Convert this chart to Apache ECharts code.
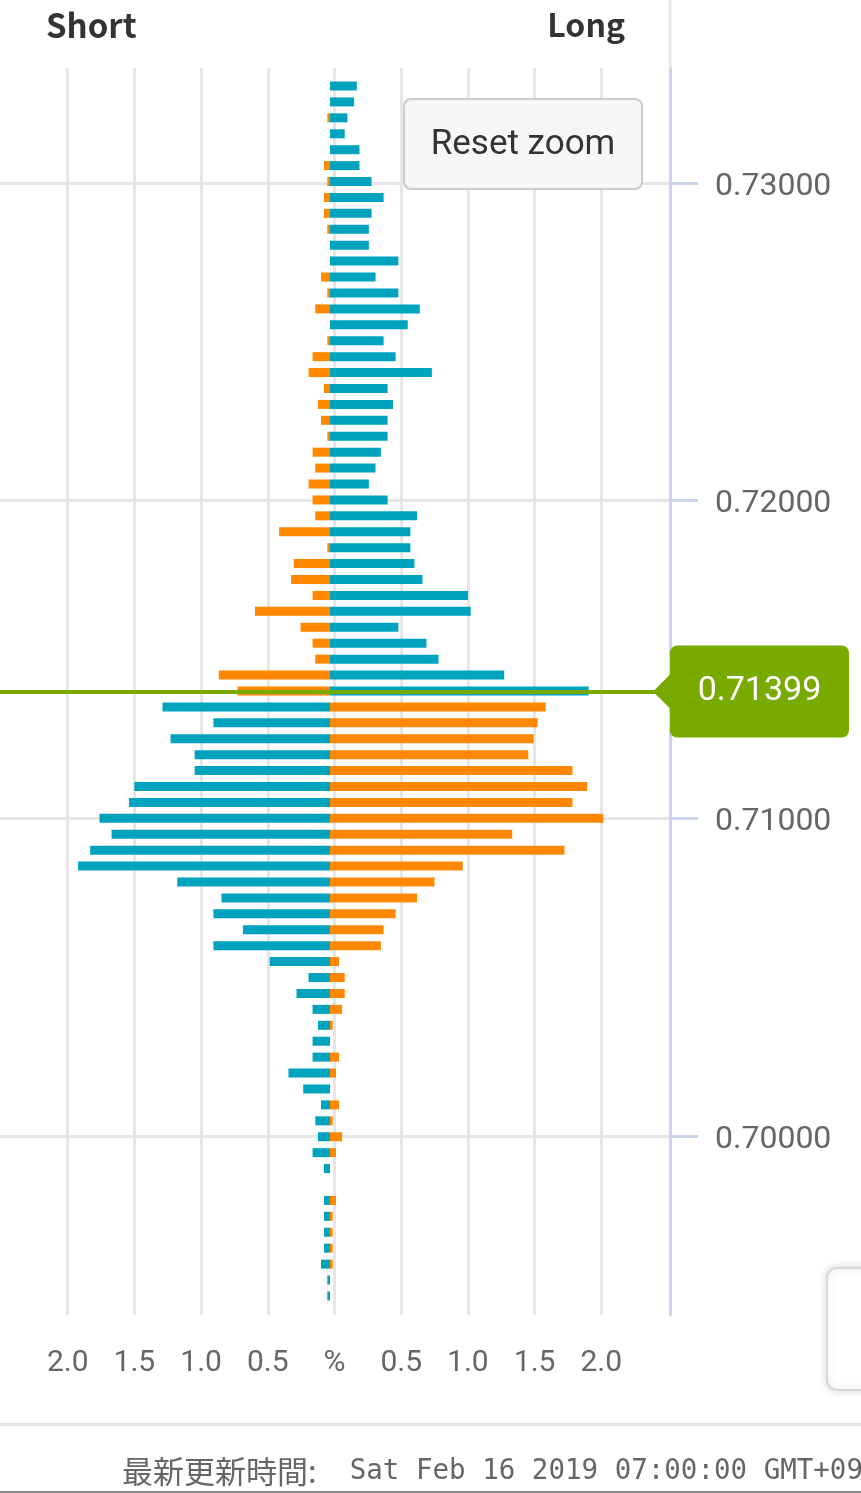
<!DOCTYPE html>
<html>
<head>
<meta charset="utf-8">
<script src="https://cdn.jsdelivr.net/npm/echarts@6/dist/echarts.min.js"></script>
<style>
html,body{margin:0;padding:0;background:#fff;}
#c{width:861px;height:1493px;}
</style>
</head>
<body>
<div id="c"></div>
<script>
// Price levels (top to bottom)
const prices = ['0.7330','0.7325','0.7320','0.7315','0.7310','0.7305','0.7300','0.7295','0.7290','0.7285',
  '0.7280','0.7275','0.7270','0.7265','0.7260','0.7255','0.7250','0.7245','0.7240','0.7235',
  '0.7230','0.7225','0.7220','0.7215','0.7210','0.7205','0.7200','0.7195','0.7190','0.7185',
  '0.7180','0.7175','0.7170','0.7165','0.7160','0.7155','0.7150','0.7145','0.7140','0.7135',
  '0.7130','0.7125','0.7120','0.7115','0.7110','0.7105','0.7100','0.7095','0.7090','0.7085',
  '0.7080','0.7075','0.7070','0.7065','0.7060','0.7055','0.7050','0.7045','0.7040','0.7035',
  '0.7030','0.7025','0.7020','0.7015','0.7010','0.7005','0.7000','0.6995','0.6990','0.6985',
  '0.6980','0.6975','0.6970','0.6965','0.6960','0.6955','0.6950'];
// Short positions (%)
const shortPct = [0,0,0.02,0,0,0.045,0.02,0.045,0.045,0.02,
  0,0,0.067,0.02,0.11,0,0.02,0.13,0.16,0.045,
  0.09,0.067,0.02,0.13,0.11,0.16,0.13,0.11,0.38,0.02,
  0.27,0.29,0.13,0.56,0.22,0.13,0.11,0.83,0.69,1.25,
  0.87,1.19,1.01,1.01,1.46,1.50,1.72,1.63,1.79,1.88,
  1.14,0.81,0.87,0.65,0.87,0.45,0.16,0.25,0.13,0.09,
  0.13,0.13,0.31,0.20,0.067,0.11,0.09,0.13,0.045,0,
  0.045,0.045,0.045,0.045,0.067,0.02,0.02];
// Long positions (%)
const longPct = [0.20,0.18,0.13,0.11,0.22,0.22,0.31,0.40,0.31,0.29,
  0.29,0.51,0.34,0.51,0.67,0.58,0.40,0.49,0.76,0.43,
  0.47,0.43,0.43,0.38,0.34,0.29,0.43,0.65,0.60,0.60,
  0.63,0.69,1.03,1.05,0.51,0.72,0.81,1.30,1.93,1.61,
  1.55,1.52,1.48,1.81,1.92,1.81,2.04,1.36,1.75,0.99,
  0.78,0.65,0.49,0.40,0.38,0.067,0.11,0.11,0.09,0.02,
  0,0.067,0.045,0,0.067,0.02,0.09,0.045,0,0,
  0.045,0.02,0.02,0.02,0.02,0,0];
const priceTicks = [0.70, 0.71, 0.72, 0.73];
const currentPrice = 0.71399;
const titles = ['Short', 'Long'];
const footerLabel = '最新更新時間:';
const footerTime = 'Sat Feb 16 2019 07:00:00 GMT+09';

const TEAL = '#00a3be';
const ORANGE = '#ff8800';
const GREEN = '#79aa00';
const GRID = '#e6e6e6';
const AXIS = '#ccd6eb';
const PX_PER_PCT = 134;

function barColor(side, idx) {
  const above = parseFloat(prices[idx]) > currentPrice;
  if (side === 'short') return above ? ORANGE : TEAL;
  return above ? TEAL : ORANGE;
}

const chart = echarts.init(document.getElementById('c'), null, {renderer: 'canvas'});

const splitColors = [];
for (let i = 0; i < 11; i++) splitColors.push(i === 0 || i === 10 ? 'rgba(0,0,0,0)' : GRID);

const option = {
  animation: false,
  backgroundColor: '#ffffff',
  grid: [
    {left: 0, right: 196, top: 78.04, bottom: 189.1},   // bars: x 0..665, zero at 330
    {left: 0, right: 193, top: 68, bottom: 178},        // frame: x 0..668, zero at 333
    {left: 0, right: 191, top: 183, bottom: 357}        // price axis: x 0..670
  ],
  xAxis: [
    {gridIndex: 0, type: 'value', min: -330 / PX_PER_PCT, max: 335 / PX_PER_PCT, show: false},
    {gridIndex: 1, type: 'value', min: -333 / PX_PER_PCT, max: 335 / PX_PER_PCT, splitNumber: 10,
      axisLine: {show: false}, axisTick: {show: false},
      splitLine: {show: true, lineStyle: {color: splitColors, width: 3}},
      axisLabel: {margin: 33, fontSize: 30, color: '#666', fontFamily: 'Roboto',
        showMinLabel: true, showMaxLabel: true,
        formatter: function (v) {
          const r = Math.round(v * 2) / 2;
          if (Math.abs(r - v) > 1e-6) return '';
          if (Math.abs(v) < 1e-9) return '%';
          if (Math.abs(Math.abs(v) - 2.5) < 1e-6) return '';
          return Math.abs(v).toFixed(1);
        }}},
    {gridIndex: 2, type: 'value', min: 0, max: 1, show: false}
  ],
  yAxis: [
    {gridIndex: 0, type: 'category', data: prices, inverse: true, show: false},
    {gridIndex: 1, type: 'value', min: 0, max: 1, position: 'right', offset: 2,
      axisLine: {show: true, onZero: false, lineStyle: {color: AXIS, width: 3}},
      axisTick: {show: false}, axisLabel: {show: false}, splitLine: {show: false}},
    {gridIndex: 2, type: 'value', min: priceTicks[0], max: priceTicks[priceTicks.length - 1], interval: 0.01,
      position: 'right',
      axisLine: {show: false, onZero: false},
      axisTick: {show: true, length: 28, lineStyle: {color: AXIS, width: 3}},
      axisLabel: {margin: 45, color: '#666',
        formatter: function (v) { return '{p|' + v.toFixed(5) + '}'; },
        rich: {p: {fontSize: 32, color: '#666', fontFamily: 'Roboto', padding: [7, 0, 0, 0]}}},
      splitLine: {show: true, lineStyle: {color: GRID, width: 3}}}
  ],
  series: [
    {name: 'Short', type: 'bar', xAxisIndex: 0, yAxisIndex: 0, barWidth: 9, barGap: '-100%',
      data: shortPct.map(v => -v), silent: true,
      itemStyle: {color: p => barColor('short', p.dataIndex)}},
    {name: 'Long', type: 'bar', xAxisIndex: 0, yAxisIndex: 0, barWidth: 9, barGap: '-100%',
      data: longPct, silent: true,
      itemStyle: {color: p => barColor('long', p.dataIndex)}},
    {name: 'price', type: 'scatter', xAxisIndex: 2, yAxisIndex: 2, symbolSize: 0, z: 5,
      data: [[0, currentPrice]], silent: true,
      markLine: {silent: true, symbol: ['none', 'none'], animation: false, precision: 5,
        lineStyle: {color: GREEN, width: 4, type: 'solid'},
        label: {show: true, position: 'end', distance: 0,
          formatter: '{a|' + currentPrice.toFixed(5) + '}',
          rich: {a: {width: 179, height: 92, lineHeight: 92, align: 'center',
            backgroundColor: GREEN, borderRadius: 7, color: '#fff', fontSize: 34, fontFamily: 'Roboto'}}},
        data: [{yAxis: currentPrice}]}}
  ]
};
chart.setOption(option);

const py = chart.convertToPixel({yAxisIndex: 2}, currentPrice);
const px = chart.convertToPixel({xAxisIndex: 2}, 1);

chart.setOption({
  graphic: [
    {type: 'line', z: 1, shape: {x1: 670, y1: 0, x2: 670, y2: 68}, style: {stroke: GRID, lineWidth: 3}},
    {type: 'text', left: 46, top: 9, z: 10,
      style: {text: titles[0], fontSize: 33, fontWeight: 'bold', fill: '#333', fontFamily: 'Noto Sans CJK JP'}},
    {type: 'text', right: 861 - 625, top: 9, z: 10,
      style: {text: titles[1], fontSize: 32, fontWeight: 'bold', fill: '#333', fontFamily: 'Noto Sans CJK JP'}},
    {type: 'group', left: 403, top: 98, z: 20, children: [
      {type: 'rect', shape: {x: 0, y: 0, width: 238, height: 90, r: 7},
        style: {fill: '#f7f7f7', stroke: '#cccccc', lineWidth: 2}},
      {type: 'text', x: 119, y: 46,
        style: {text: 'Reset zoom', fontSize: 35, fill: '#333', fontFamily: 'Roboto', align: 'center', verticalAlign: 'middle'}}
    ]},
    {type: 'polygon', z: 30, shape: {points: [[px - 17, py], [px + 1, py - 18], [px + 1, py + 18]]},
      style: {fill: GREEN}},
    {type: 'rect', z: 5, shape: {x: 827, y: 1268, width: 60, height: 122, r: 10},
      style: {fill: '#fff', stroke: '#d8d8d8', lineWidth: 2, shadowBlur: 8, shadowColor: 'rgba(0,0,0,0.15)'}},
    {type: 'rect', z: 5, shape: {x: 0, y: 1423, width: 861, height: 3}, style: {fill: '#e3e3e3'}},
    {type: 'text', left: 122, top: 1456, z: 10,
      style: {text: '{a|' + footerLabel + '}{b|  ' + footerTime + '}',
        rich: {
          a: {fontSize: 31, fill: '#666', color: '#666', fontFamily: 'Noto Sans CJK JP'},
          b: {fontSize: 27.5, fill: '#666', color: '#666', fontFamily: 'DejaVu Sans Mono'}
        }}},
    {type: 'rect', z: 5, shape: {x: 0, y: 1491, width: 861, height: 2}, style: {fill: '#8a8a8a'}}
  ]
});
</script>
</body>
</html>
